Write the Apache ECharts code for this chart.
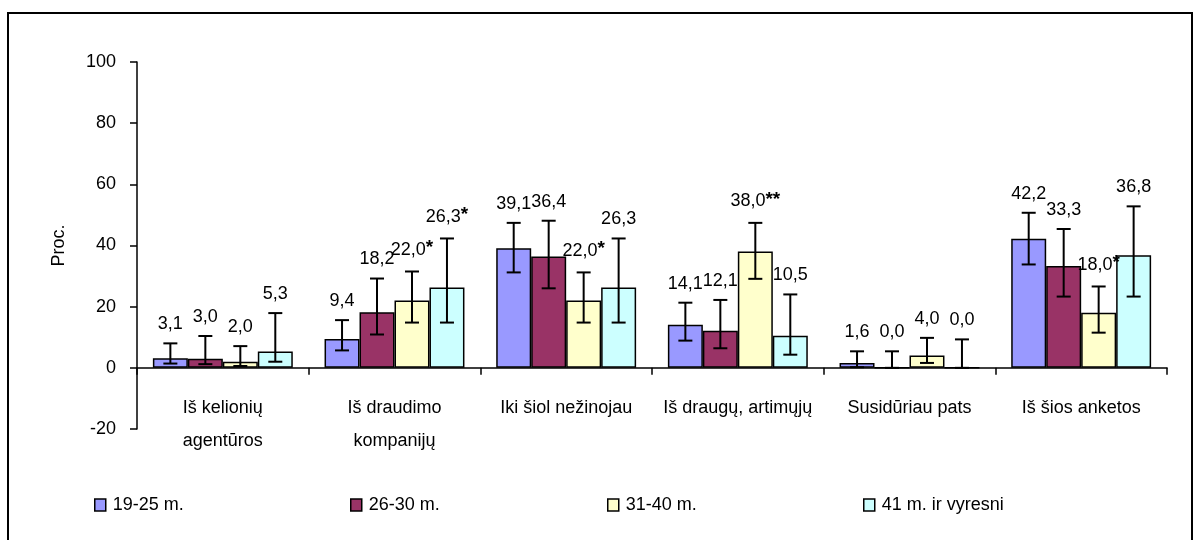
<!DOCTYPE html>
<html>
<head>
<meta charset="utf-8">
<script src="https://cdn.jsdelivr.net/npm/echarts@6/dist/echarts.min.js"></script>
<style>
  html, body { margin: 0; padding: 0; background: #fff; }
  #chart { width: 1200px; height: 540px; }
</style>
</head>
<body>
<div id="chart"></div>
<script>
// Categories (sources of information)
const categories = [
  'Iš kelionių\nagentūros',
  'Iš draudimo\nkompanijų',
  'Iki šiol nežinojau',
  'Iš draugų, artimųjų',
  'Susidūriau pats',
  'Iš šios anketos'
];

// Age groups
const groups = ['19-25 m.', '26-30 m.', '31-40 m.', '41 m. ir vyresni'];

// Percentages per age group
const v19_25 = [3.1, 9.4, 39.1, 14.1, 1.6, 42.2];
const v26_30 = [3.0, 18.2, 36.4, 12.1, 0.0, 33.3];
const v31_40 = [2.0, 22.0, 22.0, 38.0, 4.0, 18.0];
const v41plus = [5.3, 26.3, 26.3, 10.5, 0.0, 36.8];

// Confidence interval bounds (lower / upper)
const lo19_25 = [1.4, 5.7, 31.2, 8.9, 0.2, 33.8];
const hi19_25 = [8.0, 15.6, 47.4, 21.3, 5.4, 50.7];
const lo26_30 = [1.2, 10.9, 26.0, 6.4, 0.0, 23.3];
const hi26_30 = [10.4, 29.2, 48.1, 22.2, 5.4, 45.4];
const lo31_40 = [0.6, 14.8, 14.8, 29.1, 1.6, 11.5];
const hi31_40 = [7.1, 31.5, 31.2, 47.4, 9.8, 26.6];
const lo41plus = [2.0, 14.8, 14.8, 4.3, 0.0, 23.3];
const hi41plus = [17.9, 42.3, 42.3, 24.0, 9.3, 52.8];

// Significance marks
const sig19_25 = ['', '', '', '', '', ''];
const sig26_30 = ['', '', '', '', '', ''];
const sig31_40 = ['', '*', '*', '**', '', '*'];
const sig41plus = ['', '*', '', '', '', ''];

// Axis ticks
const yMin = -20, yMax = 100, yStep = 20;

const values = [v19_25, v26_30, v31_40, v41plus];
const lows = [lo19_25, lo26_30, lo31_40, lo41plus];
const highs = [hi19_25, hi26_30, hi31_40, hi41plus];
const sigs = [sig19_25, sig26_30, sig31_40, sig41plus];
const colors = ['#9999FF', '#993366', '#FFFFCC', '#CCFFFF'];

const FONT = "'Liberation Sans', Arial, sans-serif";
const CAT_GAP = 0.185;

const barSeries = groups.map((g, i) => ({
  name: g,
  type: 'bar',
  data: values[i],
  barGap: '0%',
  barCategoryGap: (CAT_GAP * 100) + '%',
  itemStyle: { color: colors[i], borderColor: '#000', borderWidth: 1.5 },
  emphasis: { disabled: true }
}));

// error bars + value labels, one item per (category, group)
const errData = [];
for (let s = 0; s < groups.length; s++) {
  for (let c = 0; c < categories.length; c++) {
    errData.push([c, s, lows[s][c], highs[s][c]]);
  }
}

function fmt(v) { return v.toFixed(1).replace('.', ','); }

const errSeries = {
  type: 'custom',
  coordinateSystem: 'cartesian2d',
  z: 5,
  silent: true,
  encode: { x: 0, y: 3 },
  data: errData,
  renderItem: function (params, api) {
    const c = api.value(0), s = api.value(1);
    const lo = api.value(2), hi = api.value(3);
    const band = api.size([1, 0])[0];
    const bw = band * (1 - CAT_GAP) / groups.length;
    const center = api.coord([c, 0]);
    const x = center[0] + (s - (groups.length - 1) / 2) * bw;
    const yLo = api.coord([c, lo])[1];
    const yHi = api.coord([c, hi])[1];
    const cap = 7;
    const ls = { stroke: '#000', lineWidth: 2 };
    const mark = sigs[s][c];
    const txt = mark ? '{n|' + fmt(values[s][c]) + '}{a|' + mark + '}' : '{n|' + fmt(values[s][c]) + '}';
    return {
      type: 'group',
      children: [
        { type: 'line', shape: { x1: x, y1: yLo, x2: x, y2: yHi }, style: ls },
        { type: 'line', shape: { x1: x - cap, y1: yHi, x2: x + cap, y2: yHi }, style: ls },
        { type: 'line', shape: { x1: x - cap, y1: yLo, x2: x + cap, y2: yLo }, style: ls },
        {
          type: 'text',
          style: {
            x: x, y: yHi - 10,
            text: txt,
            align: 'center', verticalAlign: 'bottom',
            rich: {
              n: { fontFamily: FONT, fontSize: 18, fill: '#000' },
              a: { fontFamily: FONT, fontSize: 19, fontWeight: 'bold', fill: '#000', padding: [0, 0, 4, 0] }
            }
          }
        }
      ]
    };
  }
};

const legendLefts = [89, 345, 602, 858];
const legends = groups.map((g, i) => ({
  data: [g],
  left: legendLefts[i],
  top: 491,
  icon: 'rect',
  itemWidth: 11,
  itemHeight: 12,
  itemGap: 0,
  selectedMode: false,
  textStyle: { fontFamily: FONT, fontSize: 18, color: '#000', padding: [0, 0, 0, 2] },
  itemStyle: { borderColor: '#000', borderWidth: 1.5 }
}));

const chart = echarts.init(document.getElementById('chart'), null, { renderer: 'canvas' });
chart.setOption({
  animation: false,
  backgroundColor: '#fff',
  color: colors,
  graphic: [{
    type: 'rect',
    shape: { x: 8, y: 13, width: 1184, height: 540 },
    style: { fill: 'none', stroke: '#000', lineWidth: 2 },
    silent: true,
    z: -10
  }],
  grid: { left: 137, right: 33, top: 62, bottom: 111, containLabel: false },
  legend: legends,
  xAxis: {
    type: 'category',
    data: categories,
    axisLine: { onZero: true, lineStyle: { color: '#000', width: 1.5 } },
    axisTick: { show: true, interval: 0, length: 7, inside: false, lineStyle: { color: '#000', width: 1.5 } },
    axisLabel: { interval: 0, margin: -37, fontFamily: FONT, fontSize: 18, color: '#000', lineHeight: 33 },
    splitLine: { show: false }
  },
  yAxis: {
    type: 'value',
    min: yMin, max: yMax, interval: yStep,
    name: 'Proc.',
    nameLocation: 'middle',
    nameGap: 69,
    nameRotate: 90,
    nameTextStyle: { fontFamily: FONT, fontSize: 18, color: '#000' },
    axisLine: { show: true, lineStyle: { color: '#000', width: 1.5 } },
    axisTick: { show: true, length: 7, inside: false, lineStyle: { color: '#000', width: 1.5 } },
    axisLabel: { margin: 21, fontFamily: FONT, fontSize: 18, color: '#000' },
    splitLine: { show: false }
  },
  series: barSeries.concat([errSeries])
});
</script>
</body>
</html>
